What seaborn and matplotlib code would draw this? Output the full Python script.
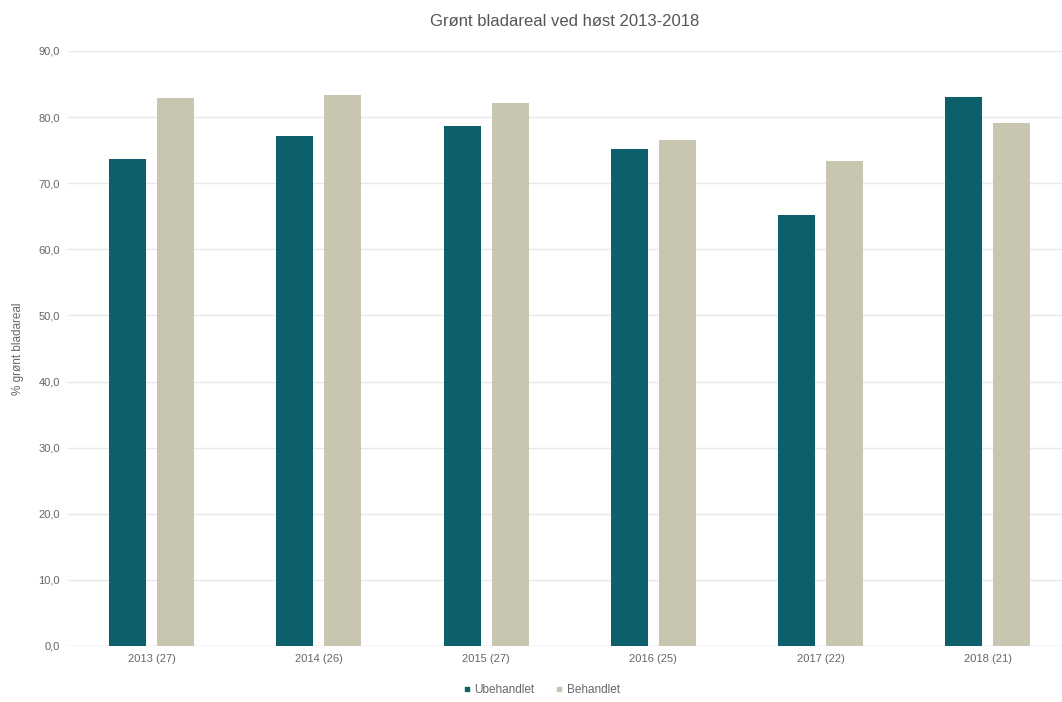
import numpy as np
import pandas as pd
import matplotlib
matplotlib.use('Agg')
import matplotlib.pyplot as plt
import seaborn as sns
from matplotlib.lines import Line2D
from matplotlib.ticker import FuncFormatter

# Values
years = ['2013 (27)', '2014 (26)', '2015 (27)', '2016 (25)', '2017 (22)', '2018 (21)']
ubehandlet = [73.7, 77.2, 78.6, 75.1, 65.2, 83.1]
behandlet = [82.9, 83.3, 82.2, 76.6, 73.3, 79.1]
series = ['Ubehandlet', 'Behandlet']
colors = ['#0b606b', '#c8c6b0']

df = pd.DataFrame({
    'year': years * 2,
    'value': ubehandlet + behandlet,
    'group': [series[0]] * len(years) + [series[1]] * len(years),
})

sns.set_theme(style='white')
plt.rcParams['font.family'] = ['Liberation Sans', 'DejaVu Sans']

fig = plt.figure(figsize=(10.62, 7.02), dpi=100)
ax = fig.add_axes([0.064, 0.0798, 0.936, 0.8476])

sns.barplot(data=df, x='year', y='value', hue='group', palette=colors,
            width=0.575, gap=0.23, ax=ax, legend=False, saturation=1,
            linewidth=0)

ax.set_ylim(0, 90)
ax.set_xlim(-0.5, 5.443)
ax.set_yticks(np.arange(0, 91, 10))
ax.yaxis.set_major_formatter(FuncFormatter(lambda v, p: f'{v:.1f}'.replace('.', ',')))
ax.grid(axis='y', color='#e8e8e8', linewidth=1)
ax.set_axisbelow(True)
for s in ax.spines.values():
    s.set_visible(False)
ax.axhline(0, color='#dcdcdc', linewidth=1, zorder=0)
ax.tick_params(axis='both', length=0, labelsize=8, colors='#666666', pad=6)
ax.set_xlabel('')
ax.set_ylabel('% grønt bladareal', fontsize=8.5, color='#666666', labelpad=10)
ax.set_title('Grønt bladareal ved høst 2013-2018', fontsize=12, color='#555555', pad=18)

handles = [Line2D([0], [0], marker='s', linestyle='', markersize=3.5,
                  markerfacecolor=c, markeredgecolor=c) for c in colors]
fig.legend(handles, series, loc='center', bbox_to_anchor=(0.51, 0.017), ncol=2,
           frameon=False, fontsize=8.5, labelcolor='#666666', handletextpad=0.35,
           handlelength=0.6, columnspacing=1.8)

fig.savefig('out.png', dpi=100)
